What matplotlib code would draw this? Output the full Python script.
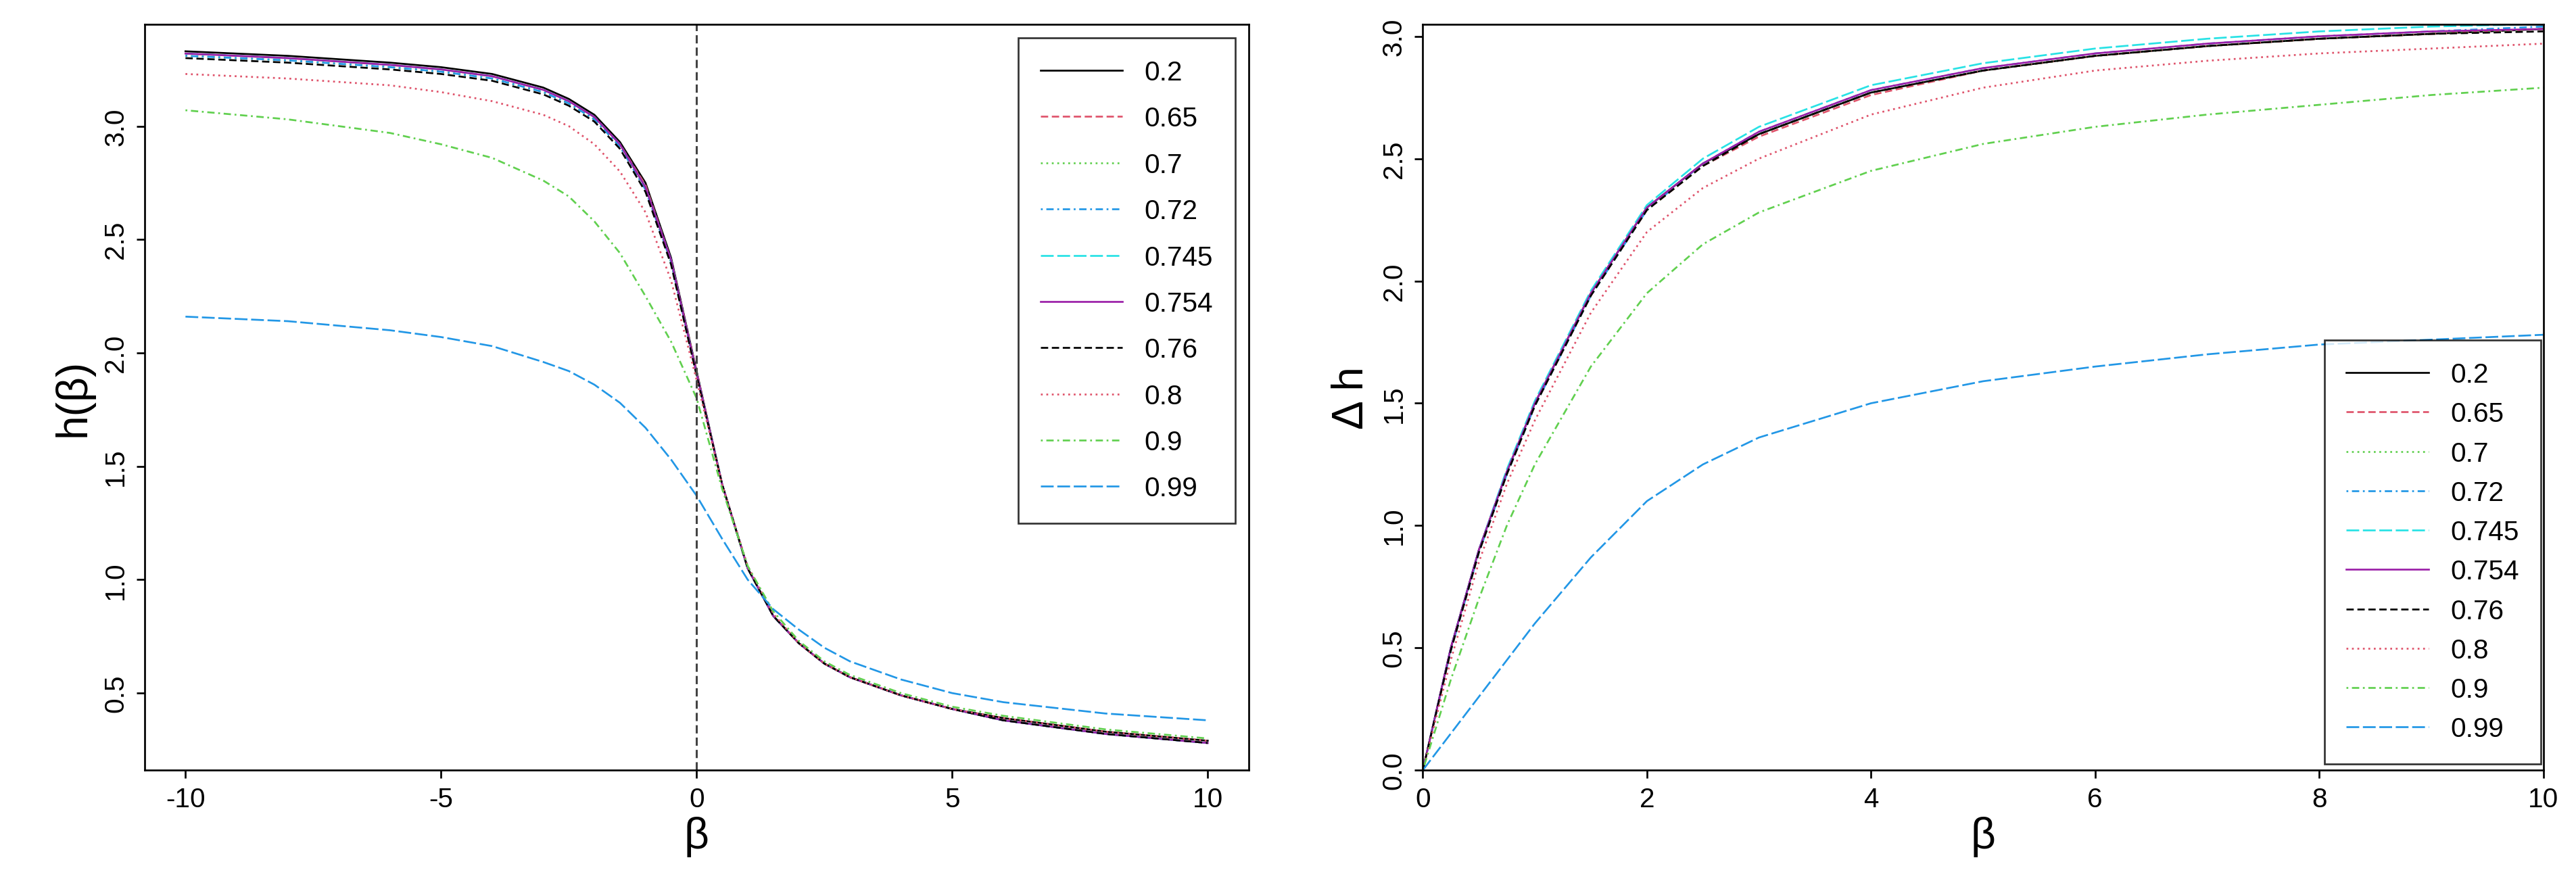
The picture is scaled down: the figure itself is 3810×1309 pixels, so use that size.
import matplotlib
matplotlib.use("Agg")
import matplotlib.pyplot as plt

plt.rcParams['font.family'] = ['Liberation Sans', 'DejaVu Sans']
plt.rcParams['axes.unicode_minus'] = False

labels = ["0.2", "0.65", "0.7", "0.72", "0.745", "0.754", "0.76", "0.8", "0.9", "0.99"]
colors = ["black", "#DF536B", "#61D04F", "#2297E6", "#28E2E5", "#9B1FA8", "black", "#DF536B", "#61D04F", "#2297E6"]
styles = ["-", (0, (4, 2)), (0, (1, 2)), (0, (1, 2, 4, 2)), (0, (7, 2)), "-", (0, (4, 2)), (0, (1, 2)), (0, (1, 2, 4, 2)), (0, (7, 2))]

beta_left = [-10, -8, -6, -5, -4, -3, -2.5, -2, -1.5, -1, -0.5, 0, 0.5, 1, 1.5, 2, 2.5, 3, 4, 5, 6, 8, 10]
h_left = [
    [3.33, 3.31, 3.28, 3.26, 3.23, 3.17, 3.12, 3.05, 2.93, 2.75, 2.42, 1.92, 1.42, 1.05, 0.84, 0.72, 0.63, 0.57, 0.49, 0.43, 0.39, 0.33, 0.29],
    [3.32, 3.30, 3.27, 3.25, 3.22, 3.16, 3.11, 3.04, 2.92, 2.74, 2.41, 1.92, 1.42, 1.05, 0.84, 0.72, 0.63, 0.57, 0.49, 0.43, 0.38, 0.32, 0.28],
    [3.31, 3.29, 3.26, 3.24, 3.21, 3.15, 3.10, 3.03, 2.91, 2.73, 2.40, 1.91, 1.42, 1.05, 0.84, 0.72, 0.63, 0.57, 0.49, 0.43, 0.38, 0.32, 0.28],
    [3.31, 3.29, 3.26, 3.24, 3.21, 3.15, 3.10, 3.03, 2.91, 2.72, 2.40, 1.91, 1.42, 1.05, 0.84, 0.72, 0.63, 0.57, 0.49, 0.43, 0.38, 0.32, 0.28],
    [3.32, 3.30, 3.27, 3.25, 3.22, 3.16, 3.11, 3.04, 2.92, 2.73, 2.41, 1.91, 1.42, 1.05, 0.84, 0.72, 0.63, 0.57, 0.49, 0.43, 0.38, 0.32, 0.28],
    [3.32, 3.30, 3.27, 3.25, 3.22, 3.16, 3.11, 3.04, 2.92, 2.73, 2.41, 1.91, 1.42, 1.05, 0.84, 0.72, 0.63, 0.57, 0.49, 0.43, 0.38, 0.32, 0.28],
    [3.30, 3.28, 3.25, 3.23, 3.20, 3.14, 3.09, 3.02, 2.90, 2.71, 2.39, 1.90, 1.42, 1.05, 0.84, 0.72, 0.63, 0.57, 0.49, 0.43, 0.38, 0.32, 0.28],
    [3.23, 3.21, 3.18, 3.15, 3.11, 3.05, 3.00, 2.92, 2.80, 2.62, 2.32, 1.88, 1.42, 1.06, 0.85, 0.72, 0.63, 0.57, 0.49, 0.43, 0.39, 0.33, 0.29],
    [3.07, 3.03, 2.97, 2.92, 2.86, 2.76, 2.69, 2.58, 2.44, 2.25, 2.05, 1.80, 1.40, 1.06, 0.86, 0.73, 0.64, 0.58, 0.50, 0.44, 0.40, 0.34, 0.30],
    [2.16, 2.14, 2.10, 2.07, 2.03, 1.96, 1.92, 1.86, 1.78, 1.67, 1.53, 1.37, 1.18, 1.00, 0.87, 0.78, 0.70, 0.64, 0.56, 0.50, 0.46, 0.41, 0.38],
]

beta_right = [0, 0.25, 0.5, 0.75, 1, 1.5, 2, 2.5, 3, 4, 5, 6, 7, 8, 9, 10]
dh_right = [
    [0, 0.50, 0.90, 1.22, 1.50, 1.95, 2.30, 2.48, 2.60, 2.77, 2.86, 2.92, 2.96, 2.99, 3.01, 3.03],
    [0, 0.49, 0.89, 1.21, 1.49, 1.94, 2.29, 2.47, 2.59, 2.76, 2.86, 2.92, 2.96, 2.99, 3.01, 3.03],
    [0, 0.49, 0.89, 1.21, 1.49, 1.94, 2.29, 2.47, 2.60, 2.77, 2.86, 2.92, 2.96, 2.99, 3.01, 3.03],
    [0, 0.49, 0.89, 1.21, 1.49, 1.94, 2.29, 2.48, 2.61, 2.78, 2.87, 2.93, 2.97, 3.00, 3.02, 3.04],
    [0, 0.50, 0.90, 1.23, 1.51, 1.96, 2.31, 2.50, 2.63, 2.80, 2.89, 2.95, 2.99, 3.02, 3.04, 3.05],
    [0, 0.50, 0.90, 1.22, 1.50, 1.95, 2.30, 2.48, 2.61, 2.78, 2.87, 2.93, 2.97, 3.00, 3.02, 3.03],
    [0, 0.49, 0.89, 1.21, 1.49, 1.94, 2.29, 2.47, 2.60, 2.77, 2.86, 2.92, 2.96, 2.99, 3.01, 3.02],
    [0, 0.45, 0.85, 1.17, 1.43, 1.87, 2.20, 2.38, 2.50, 2.68, 2.79, 2.86, 2.90, 2.93, 2.95, 2.97],
    [0, 0.37, 0.70, 1.00, 1.25, 1.65, 1.95, 2.15, 2.28, 2.45, 2.56, 2.63, 2.68, 2.72, 2.76, 2.79],
    [0, 0.15, 0.30, 0.45, 0.60, 0.87, 1.10, 1.25, 1.36, 1.50, 1.59, 1.65, 1.70, 1.74, 1.76, 1.78],
]

fig = plt.figure(figsize=(15.68, 5.39), dpi=243)
ax1 = fig.add_axes([88/1568, 70/540, (760-88)/1568, (525-70)/540])
ax2 = fig.add_axes([866/1568, 70/540, (1548-866)/1568, (525-70)/540])

for i in range(len(labels)):
    ax1.plot(beta_left, h_left[i], color=colors[i], linestyle=styles[i], lw=0.8, label=labels[i])
    ax2.plot(beta_right, dh_right[i], color=colors[i], linestyle=styles[i], lw=0.8, label=labels[i])

ax1.axvline(0, color="#444444", linestyle=(0, (4, 2)), lw=0.9)
ax1.set_xlim(-10.8, 10.8)
ax1.set_ylim(0.16, 3.45)
ax1.set_xticks([-10, -5, 0, 5, 10])
ax1.set_yticks([0.5, 1.0, 1.5, 2.0, 2.5, 3.0])
ax1.set_xlabel("β", fontsize=19, labelpad=2)
ax1.set_ylabel("h(β)", fontsize=19)
ax2.set_xlim(0, 10)
ax2.set_ylim(0, 3.05)
ax2.set_xticks([0, 2, 4, 6, 8, 10])
ax2.set_yticks([0.0, 0.5, 1.0, 1.5, 2.0, 2.5, 3.0])
ax2.set_xlabel("β", fontsize=19, labelpad=2)
ax2.set_ylabel("Δ h", fontsize=19)

for ax in (ax1, ax2):
    ax.tick_params(labelsize=12)
    for lab in ax.get_yticklabels():
        lab.set_rotation(90)
        lab.set_va("center")
    for s in ax.spines.values():
        s.set_linewidth(0.8)

leg_kw = dict(fontsize=12, frameon=True, fancybox=False, edgecolor="black",
              handlelength=3.0, borderpad=0.8)
l1 = ax1.legend(loc="upper right", bbox_to_anchor=(1.0, 1.0), labelspacing=0.75, **leg_kw)
l2 = ax2.legend(loc="lower right", bbox_to_anchor=(1.01, -0.01), labelspacing=0.5, **leg_kw)
for l in (l1, l2):
    l.get_frame().set_linewidth(0.8)

fig.savefig("out.png", dpi=243)
